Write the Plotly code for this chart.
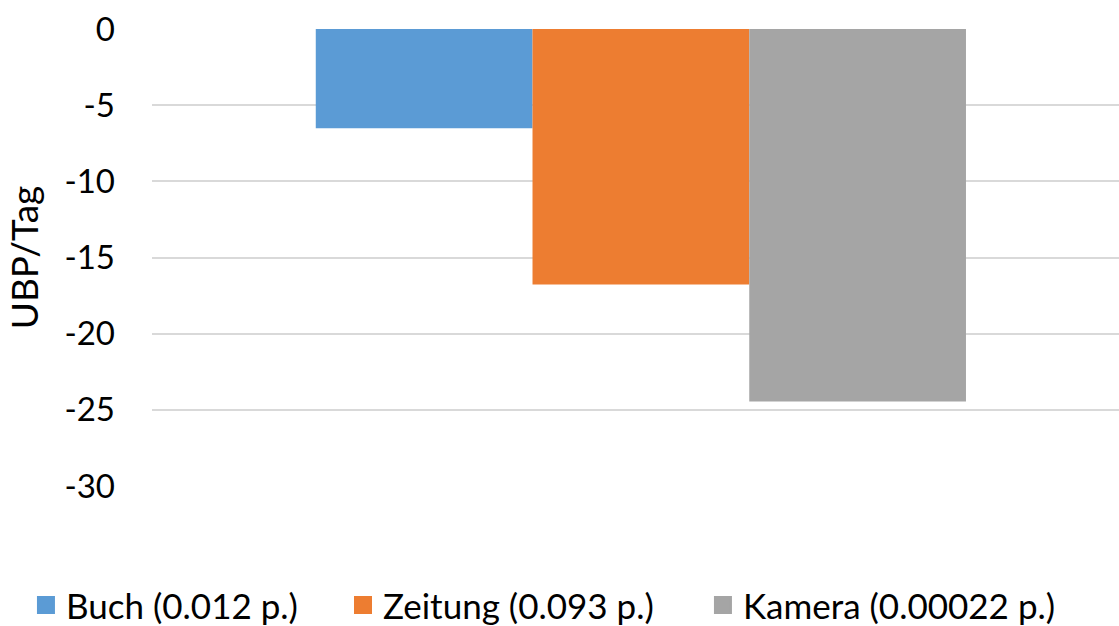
import plotly.graph_objects as go

# Series shown in the chart
series_names = ["Buch (0.012 p.)", "Zeitung (0.093 p.)", "Kamera (0.00022 p.)"]
series_values = [-6.52, -16.77, -24.45]
series_colors = ["#5B9BD5", "#ED7D31", "#A5A5A5"]
category = [""]
y_ticks = [0, -5, -10, -15, -20, -25, -30]

# left edge of each legend entry (fraction of the page width)
legend_x = [0.0232, 0.3065, 0.6282]
legend_ids = ["legend", "legend2", "legend3"]

FONT = "Lato"

fig = go.Figure()
for name, val, col, lid in zip(series_names, series_values, series_colors, legend_ids):
    fig.add_trace(go.Bar(
        x=category, y=[val], name=name, legendgroup=name, showlegend=False,
        marker=dict(color=col, line=dict(width=0)),
    ))
    # square legend swatch for the series
    fig.add_trace(go.Scatter(
        x=[None], y=[None], mode="markers", name=name, legendgroup=name,
        legend=lid,
        marker=dict(symbol="square", size=20, color=col,
                    line=dict(width=2, color=col)),
    ))

legend_style = dict(
    orientation="h", xanchor="left", xref="container",
    yref="container", y=0.033, yanchor="middle",
    font=dict(family=FONT, size=35, color="black"),
    itemwidth=30, bgcolor="rgba(0,0,0,0)",
)

fig.update_layout(
    width=1119, height=626,
    margin=dict(l=152, r=0, t=29, b=140),
    paper_bgcolor="white", plot_bgcolor="white",
    barmode="group", bargap=0.335, bargroupgap=0,
    font=dict(family=FONT, size=33, color="black"),
    showlegend=True,
    legend=dict(x=legend_x[0], **legend_style),
    legend2=dict(x=legend_x[1], **legend_style),
    legend3=dict(x=legend_x[2], **legend_style),
    xaxis=dict(
        type="category", range=[-0.5, 0.489],
        showticklabels=False, showgrid=False, zeroline=False,
        showline=False, ticks="",
    ),
    yaxis=dict(
        range=[-30, 0], tickvals=y_ticks, ticktext=[str(v) for v in y_ticks],
        showgrid=True, gridcolor="#D9D9D9", gridwidth=2,
        zeroline=False, showline=False, ticks="",
        ticklabelstandoff=36,
        tickfont=dict(family=FONT, size=33, color="black"),
        title=dict(text="UBP/Tag", font=dict(family=FONT, size=37, color="black"),
                   standoff=14),
    ),
)

fig.write_html("out.html")
